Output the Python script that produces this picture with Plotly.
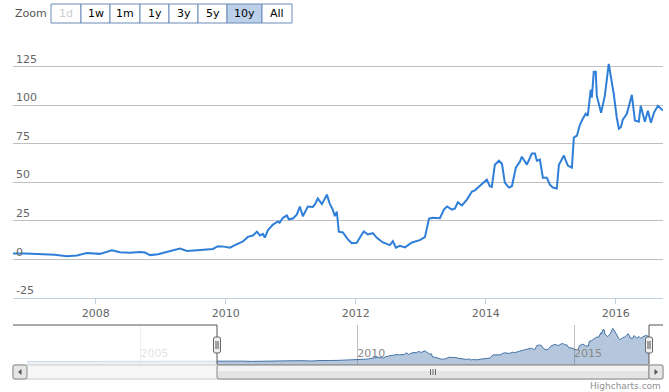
import plotly.graph_objects as go

# ---------------- data ----------------
main_dates = [
    "2006-09-23", "2006-11-29", "2007-03-10", "2007-05-16", "2007-07-23", "2007-09-17", "2007-11-12", "2007-12-16",
    "2008-01-24", "2008-04-01", "2008-05-16", "2008-07-11", "2008-09-05", "2008-10-04", "2008-11-01", "2008-12-16",
    "2009-02-04", "2009-04-18", "2009-05-28", "2009-07-23", "2009-09-17", "2009-10-21", "2009-11-18", "2009-12-21",
    "2010-01-24", "2010-02-16", "2010-03-21", "2010-04-07", "2010-05-05", "2010-06-02", "2010-06-25", "2010-07-12",
    "2010-07-28", "2010-08-08", "2010-08-26", "2010-09-23", "2010-10-21", "2010-10-30", "2010-11-18", "2010-12-10",
    "2010-12-21",
    "2011-01-13", "2011-02-04", "2011-02-21", "2011-03-10", "2011-04-07", "2011-05-05", "2011-05-16", "2011-06-02",
    "2011-06-25", "2011-07-23", "2011-08-08", "2011-08-25", "2011-09-06", "2011-09-17", "2011-09-28", "2011-10-21",
    "2011-11-18", "2011-12-10",
    "2012-01-07", "2012-02-04", "2012-02-16", "2012-03-09", "2012-04-06", "2012-04-29", "2012-06-02", "2012-07-11",
    "2012-07-28", "2012-08-14", "2012-09-05", "2012-10-04", "2012-11-12", "2012-12-26",
    "2013-01-24", "2013-02-16", "2013-03-10", "2013-04-18", "2013-05-11", "2013-05-28", "2013-06-25", "2013-07-12",
    "2013-07-28", "2013-08-20", "2013-09-17", "2013-10-15", "2013-11-01", "2013-11-18", "2013-12-16",
    "2014-01-07", "2014-01-24", "2014-02-04", "2014-02-21", "2014-03-16", "2014-04-02", "2014-04-18", "2014-05-11",
    "2014-05-28", "2014-06-19", "2014-07-12", "2014-07-23", "2014-08-20", "2014-09-17", "2014-10-04", "2014-10-15",
    "2014-11-01", "2014-11-18", "2014-12-10", "2014-12-27",
    "2015-01-13", "2015-02-04", "2015-02-16", "2015-03-16", "2015-04-07", "2015-04-30", "2015-05-11", "2015-05-28",
    "2015-06-14", "2015-06-30", "2015-07-17", "2015-07-28", "2015-08-14", "2015-08-20", "2015-08-31", "2015-09-11",
    "2015-09-17", "2015-10-11", "2015-10-21", "2015-11-01", "2015-11-23", "2015-12-10", "2015-12-21",
    "2016-01-07", "2016-01-19", "2016-01-30", "2016-02-10", "2016-03-04", "2016-04-01", "2016-04-18", "2016-05-10",
    "2016-05-21", "2016-06-13", "2016-06-30", "2016-07-17", "2016-08-03", "2016-08-25", "2016-09-23",
]
main_values = [
    3.9, 3.9, 3.3, 3.0, 2.0, 2.6, 4.2, 4.0,
    3.6, 6.0, 4.6, 4.4, 4.8, 4.5, 2.8, 3.4,
    5.0, 7.0, 5.5, 5.8, 6.5, 6.8, 8.6, 8.3,
    7.6, 9.0, 10.5, 11.6, 14.6, 15.5, 18.0, 15.5,
    16.5, 14.2, 19.0, 22.6, 24.6, 23.8, 27.0, 28.5,
    26.0,
    26.5, 29.0, 34.3, 28.0, 34.3, 34.0, 35.5, 39.5,
    35.8, 42.0, 36.2, 32.3, 28.0, 31.0, 18.0, 17.5,
    13.0, 10.5,
    10.8, 16.2, 18.1, 16.2, 17.0, 14.0, 11.0, 9.3,
    11.8, 7.6, 8.8, 7.8, 11.0, 12.5,
    14.4, 26.5, 27.0, 26.7, 32.3, 34.3, 32.3, 33.0,
    37.0, 35.0, 38.8, 44.0, 44.8, 46.6, 49.6,
    51.7, 47.4, 47.0, 61.4, 64.0, 62.0, 49.8, 46.6,
    47.4, 59.5, 63.4, 66.6, 61.4, 68.6, 68.6, 64.0,
    64.7, 53.0, 53.0, 48.5,
    46.6, 46.0, 61.4, 67.3, 60.8, 59.5, 79.0, 80.2,
    87.3, 91.2, 94.4, 93.0, 110.0, 104.8, 121.6, 121.6,
    106.0, 95.0, 100.9, 106.0, 126.8, 116.4, 107.4,
    92.0, 84.7, 85.7, 90.6, 94.4, 106.7, 90.0, 89.3,
    99.6, 89.3, 96.4, 88.6, 95.0, 99.6, 96.5,
]
# earlier history only visible in the navigator
early_dates = ["2002-05-22", "2002-09-01", "2003-01-01", "2003-05-01", "2003-09-01", "2004-01-01", "2004-05-01",
               "2004-09-01", "2005-01-01", "2005-05-01", "2005-09-01", "2006-01-01", "2006-05-01", "2006-09-01"]
early_values = [1.6, 1.2, 1.0, 1.2, 1.5, 1.6, 2.0, 2.3, 3.0, 3.4, 3.2, 4.0, 3.6, 3.8]

y_ticks = [-25, 0, 25, 50, 75, 100, 125, 150]
x_ticks = ["2008-01-01", "2010-01-01", "2012-01-01", "2014-01-01", "2016-01-01"]
nav_ticks = ["2005-01-01", "2010-01-01", "2015-01-01"]
buttons = ["1d", "1w", "1m", "1y", "3y", "5y", "10y", "All"]
selected_button = "10y"
disabled_buttons = ["1d"]

assert len(main_dates) == len(main_values)
assert len(early_dates) == len(early_values)

# ---------------- layout geometry (pixels) ----------------
W, H = 669, 392
ML, MR, MT, MB = 13, 6, 28, 13
PW, PH = W - ML - MR, H - MT - MB


def px(x):
    return (x - ML) / PW


def py(y):
    return (H - MB - y) / PH


MAIN_BOTTOM = 298
NAV_TOP, NAV_BOTTOM = 325, 365
NAV_LEFT, NAV_RIGHT = 27, 649
SB_TOP, SB_BOTTOM = 365, 379

nav_dates = early_dates + main_dates
nav_values = early_values + main_values
vmin, vmax = min(nav_values), max(nav_values)
pad = 0.1 * (vmax - vmin)
nav_range = [vmin - pad, vmax + pad]

FONT = "DejaVu Sans"

fig = go.Figure()

fig.add_trace(go.Scatter(
    x=main_dates, y=main_values, mode="lines", xaxis="x", yaxis="y",
    line=dict(color="#2f7ed8", width=2), hoverinfo="skip", showlegend=False))

# navigator: baseline + filled series
fig.add_trace(go.Scatter(
    x=[nav_dates[0], nav_dates[-1]], y=[nav_range[0], nav_range[0]], mode="lines",
    xaxis="x2", yaxis="y2", line=dict(width=0, color="rgba(0,0,0,0)"),
    hoverinfo="skip", showlegend=False))
fig.add_trace(go.Scatter(
    x=nav_dates, y=nav_values, mode="lines", xaxis="x2", yaxis="y2",
    fill="tonexty", fillcolor="rgba(69,114,167,0.40)",
    line=dict(color="#4572A7", width=1), hoverinfo="skip", showlegend=False))

shapes = []
annotations = []


def rect(x0, y0, x1, y1, fill, line="rgba(0,0,0,0)", lw=0):
    shapes.append(dict(type="rect", xref="paper", yref="paper",
                       x0=px(x0), x1=px(x1), y0=py(y1), y1=py(y0),
                       fillcolor=fill, line=dict(color=line, width=lw), layer="above"))


def seg(x0, y0, x1, y1, color, lw=1):
    shapes.append(dict(type="line", xref="paper", yref="paper",
                       x0=px(x0), x1=px(x1), y0=py(y0), y1=py(y1),
                       line=dict(color=color, width=lw), layer="above"))


def rrect(x0, y0, x1, y1, r, fill, line, lw=1):
    pts = [("M", x0 + r, y0), ("L", x1 - r, y0), ("Q", x1, y0, x1, y0 + r), ("L", x1, y1 - r),
           ("Q", x1, y1, x1 - r, y1), ("L", x0 + r, y1), ("Q", x0, y1, x0, y1 - r), ("L", x0, y0 + r),
           ("Q", x0, y0, x0 + r, y0)]
    parts = []
    for p in pts:
        cmd = p[0]
        coords = p[1:]
        s = " ".join(f"{px(coords[i]):.5f},{py(coords[i + 1]):.5f}" for i in range(0, len(coords), 2))
        parts.append(f"{cmd} {s}")
    shapes.append(dict(type="path", xref="paper", yref="paper", path=" ".join(parts) + " Z",
                       fillcolor=fill, line=dict(color=line, width=lw), layer="above"))


def tri(points, fill):
    path = "M " + " L ".join(f"{px(x):.5f},{py(y):.5f}" for x, y in points) + " Z"
    shapes.append(dict(type="path", xref="paper", yref="paper", path=path,
                       fillcolor=fill, line=dict(width=0), layer="above"))


# navigator mask (outside selection)
SEL_L, SEL_R = 217, 649
rect(NAV_LEFT, NAV_TOP, SEL_L, NAV_BOTTOM, "rgba(255,255,255,0.75)")

# navigator outline
seg(13, NAV_TOP, SEL_L, NAV_TOP, "#555555")
seg(SEL_L, NAV_TOP, SEL_L, NAV_BOTTOM, "#555555")
seg(SEL_L, NAV_BOTTOM, SEL_R, NAV_BOTTOM, "#555555")
seg(SEL_R, NAV_BOTTOM, SEL_R, NAV_TOP, "#555555")
seg(SEL_R, NAV_TOP, 663, NAV_TOP, "#555555")

# scrollbar
rect(13, SB_TOP, 663, SB_BOTTOM, "#f6f6f6", "#cccccc", 1)
rrect(SEL_L, SB_TOP, SEL_R, SB_BOTTOM, 2, "#e4e4e4", "#8a8a8a", 1)
rect(SEL_L + 1, SB_TOP + 1, SEL_R - 1, SB_TOP + 6, "#f3f3f3")
gx = (SEL_L + SEL_R) / 2
for dx in (-2.5, 0, 2.5):
    seg(gx + dx, SB_TOP + 4, gx + dx, SB_BOTTOM - 4, "#666666", 1)
rrect(13, SB_TOP, 27, SB_BOTTOM, 2, "#e6e6e6", "#8a8a8a", 1)
rrect(649, SB_TOP, 663, SB_BOTTOM, 2, "#e6e6e6", "#8a8a8a", 1)
tri([(21.5, 369), (18, 372), (21.5, 375)], "#555555")
tri([(654.5, 369), (658, 372), (654.5, 375)], "#555555")

# navigator handles
for hx in (SEL_L, SEL_R):
    rrect(hx - 3.5, 337, hx + 3.5, 353, 2, "#f0f0f0", "#666666", 1)
    seg(hx - 1, 341, hx - 1, 349, "#555555", 1)
    seg(hx + 1, 341, hx + 1, 349, "#555555", 1)

# range selector
annotations.append(dict(text="Zoom", xref="paper", yref="paper", x=px(13), y=py(13.5),
                        xanchor="left", yanchor="middle", showarrow=False,
                        font=dict(family=FONT, size=11, color="#555555")))
edges = [51, 81, 110, 140, 169, 198, 227, 262, 292]
for i, b in enumerate(buttons):
    x0, x1 = edges[i], edges[i + 1]
    fill = "#bcd0ea" if b == selected_button else "#ffffff"
    rect(x0, 4, x1, 23, fill, "#6a8ab8", 1)
    color = "#cccccc" if b in disabled_buttons else "#000000"
    annotations.append(dict(text=b, xref="paper", yref="paper", x=px((x0 + x1) / 2), y=py(13.5),
                            xanchor="center", yanchor="middle", showarrow=False,
                            font=dict(family=FONT, size=11, color=color)))

# credits
annotations.append(dict(text="Highcharts.com", xref="paper", yref="paper", x=px(663), y=py(386),
                        xanchor="right", yanchor="middle", showarrow=False,
                        font=dict(family=FONT, size=9, color="#909090")))

fig.update_layout(
    width=W, height=H,
    margin=dict(l=ML, r=MR, t=MT, b=MB, pad=0),
    paper_bgcolor="white", plot_bgcolor="white",
    font=dict(family=FONT, size=11, color="#666666"),
    showlegend=False,
    xaxis=dict(domain=[0, 1], anchor="y", type="date", range=[main_dates[0], main_dates[-1]],
               tickvals=x_ticks, tickformat="%Y", showgrid=False, zeroline=False,
               showline=True, linecolor="#C0D0E0", linewidth=1,
               ticks="outside", ticklen=5, tickcolor="#C0D0E0",
               tickfont=dict(family=FONT, size=11, color="#666666")),
    yaxis=dict(domain=[py(MAIN_BOTTOM), 1], anchor="x", range=[y_ticks[0], y_ticks[-1]],
               tickvals=y_ticks, ticktext=[str(v) for v in y_ticks[:-1]] + [""],
               ticklabelposition="inside top", showgrid=True, gridcolor="#C0C0C0", gridwidth=1,
               zeroline=False, showline=False, ticks="",
               tickfont=dict(family=FONT, size=11, color="#666666")),
    xaxis2=dict(domain=[px(NAV_LEFT), px(NAV_RIGHT)], anchor="y2", type="date",
                range=[nav_dates[0], nav_dates[-1]], tickvals=nav_ticks, tickformat="%Y",
                showgrid=True, gridcolor="#C0C0C0", gridwidth=1, zeroline=False, showline=False,
                ticks="", ticklabelposition="inside right",
                tickfont=dict(family=FONT, size=11, color="#888888")),
    yaxis2=dict(domain=[py(NAV_BOTTOM), py(NAV_TOP)], anchor="x2", range=nav_range,
                showgrid=False, zeroline=False, showline=False, showticklabels=False, ticks=""),
    shapes=shapes,
    annotations=annotations,
)

fig.write_html("out.html", config={"displayModeBar": False},
               post_script="document.body.style.margin='0';document.body.style.padding='0';")
